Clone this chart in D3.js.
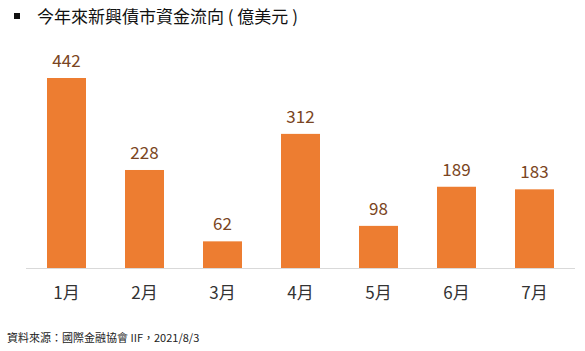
<!DOCTYPE html>
<html>
<head>
<meta charset="utf-8">
<script src="https://cdn.jsdelivr.net/npm/d3@7"></script>
<style>
  body { margin: 0; background: #fff; }
  text { font-family: "Noto Sans CJK TC", "Noto Sans", sans-serif; }
</style>
</head>
<body>
<div id="chart"></div>
<script>
// months and bond fund flows (100M USD)
let months = ["1月", "2月", "3月", "4月", "5月", "6月", "7月"];
let flows = [442, 228, 62, 312, 98, 189, 183];

let titleText = "今年來新興債市資金流向 ( 億美元 )";
let sourceText = "資料來源：國際金融協會 IIF，2021/8/3";

let width = 585, height = 351;
let baseY = 268;

let svg = d3.select("#chart").append("svg")
  .attr("width", width).attr("height", height);

let xScale = d3.scaleBand()
  .domain(months)
  .range([27.5, 573.5])
  .paddingInner(0.5)
  .paddingOuter(0.25);

let yScale = d3.scaleLinear()
  .domain([0, 442])
  .range([baseY, 78]);

// title with square bullet
svg.append("rect")
  .attr("x", 14).attr("y", 13).attr("width", 6).attr("height", 6)
  .attr("fill", "#111");
svg.append("text")
  .attr("x", 37).attr("y", 23)
  .attr("font-size", 17)
  .attr("fill", "#111")
  .text(titleText);

// bars
svg.append("g")
  .selectAll("rect")
  .data(flows)
  .enter().append("rect")
  .attr("x", (d, i) => xScale(months[i]))
  .attr("width", xScale.bandwidth())
  .attr("y", d => yScale(d))
  .attr("height", d => baseY - yScale(d))
  .attr("fill", "#ED7D31");

// baseline
svg.append("line")
  .attr("x1", 26).attr("x2", 575)
  .attr("y1", baseY + 0.5).attr("y2", baseY + 0.5)
  .attr("stroke", "#d9d9d9");

// value labels
svg.append("g")
  .selectAll("text")
  .data(flows)
  .enter().append("text")
  .attr("x", (d, i) => xScale(months[i]) + xScale.bandwidth() / 2)
  .attr("y", d => yScale(d) - 11)
  .attr("text-anchor", "middle")
  .attr("font-family", "'Open Sans', 'Noto Sans', sans-serif")
  .attr("font-size", 17)
  .attr("fill", "#7a4522")
  .text(d => d);

// month axis labels
let xAxis = d3.axisBottom(xScale).tickSize(0).tickPadding(0);
let gx = svg.append("g")
  .attr("transform", "translate(0," + (baseY + 19) + ")")
  .call(xAxis);
gx.select(".domain").remove();
gx.selectAll("text")
  .attr("font-size", 17)
  .attr("fill", "#333")
  .attr("font-family", "'Noto Sans CJK TC', sans-serif");

// source note
svg.append("text")
  .attr("x", 7).attr("y", 342)
  .attr("font-size", 11)
  .attr("fill", "#222")
  .text(sourceText);
</script>
</body>
</html>
